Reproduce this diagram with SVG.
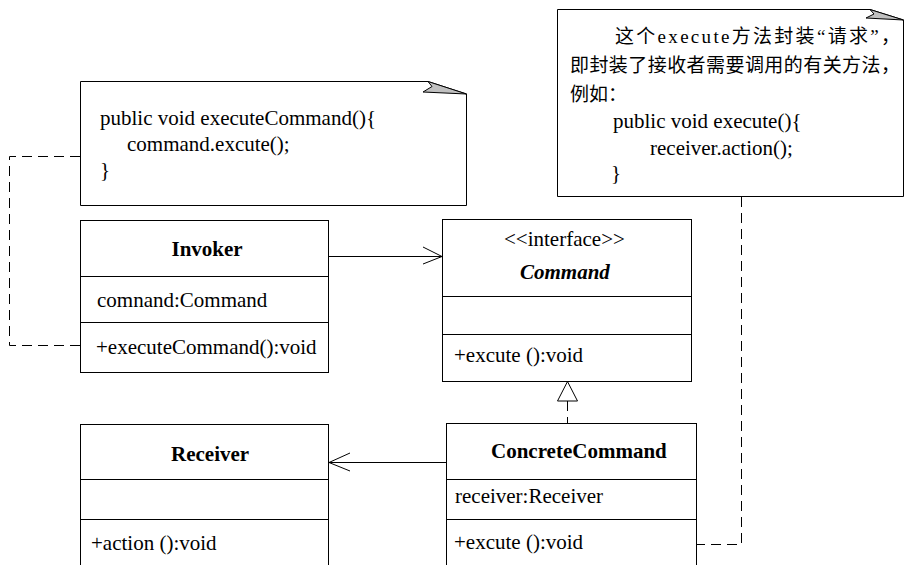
<svg xmlns="http://www.w3.org/2000/svg" width="904" height="565" viewBox="0 0 904 565">
<style>
.box{fill:#fff;stroke:#000;stroke-width:1}
.ln{fill:none;stroke:#000;stroke-width:1}
.dash{fill:none;stroke:#000;stroke-width:1;stroke-dasharray:10 6}
.ear{fill:#c0c0c0;stroke:#000;stroke-width:1;stroke-linejoin:round}
.t{font-family:"Liberation Serif","Noto Sans CJK SC",serif;font-size:21px;fill:#000}
.c{font-family:"Liberation Serif","Noto Sans CJK SC",serif;font-size:19px;fill:#000}
.b{font-weight:bold}
.bi{font-weight:bold;font-style:italic}
</style>
<rect width="904" height="565" fill="#fff"/>

<g id="connectors">
  <polyline class="dash" points="80,156.5 9.5,156.5 9.5,345.5 80,345.5"/>
  <line class="ln" x1="329" y1="256.5" x2="442" y2="256.5"/>
  <polyline class="ln" points="423,247 442,256.5 423,264"/>
  <line class="ln" x1="446" y1="462.5" x2="329" y2="462.5"/>
  <polyline class="ln" points="350,453 329,462.5 350,471"/>
  <line class="dash" x1="567.5" y1="401" x2="567.5" y2="423"/>
  <polygon class="box" points="567.5,381.5 557.5,401 577.5,401"/>
  <polyline class="dash" points="741.5,197 741.5,544.5 697,544.5"/>
</g>

<g id="note-invoker">
  <path class="box" d="M80.5,81.5 H428 L466.5,94 V205.5 H80.5 Z"/>
  <path class="ear" d="M428,81.5 L432,86.5 L423,92 L466.5,94 Z"/>
  <text class="t" x="100" y="125">public void executeCommand(){</text>
  <text class="t" x="127" y="151">command.excute();</text>
  <text class="t" x="100" y="177">}</text>
</g>

<g id="note-execute">
  <path class="box" d="M557.5,9.5 H870 L903.5,20 V196.5 H557.5 Z"/>
  <path class="ear" d="M870,9.5 L874,14 L866,18 L903.5,20 Z"/>
  <text class="c" x="615" y="43" textLength="285" lengthAdjust="spacing">这个execute方法封装“请求”，</text>
  <text class="c" x="570" y="72" textLength="330" lengthAdjust="spacing">即封装了接收者需要调用的有关方法，</text>
  <text class="c" x="570" y="101">例如：</text>
  <text class="t" x="613" y="128">public void execute(){</text>
  <text class="t" x="650" y="155">receiver.action();</text>
  <text class="t" x="611" y="180">}</text>
</g>

<g id="invoker">
  <rect class="box" x="80.5" y="220.5" width="248" height="152"/>
  <line class="ln" x1="80.5" y1="276.5" x2="328.5" y2="276.5"/>
  <line class="ln" x1="80.5" y1="322.5" x2="328.5" y2="322.5"/>
  <text class="t b" x="171.5" y="256">Invoker</text>
  <text class="t" x="97" y="307">comnand:Command</text>
  <text class="t" x="96" y="354">+executeCommand():void</text>
</g>

<g id="command">
  <rect class="box" x="442.5" y="219.5" width="249" height="162"/>
  <line class="ln" x1="442.5" y1="296.5" x2="691.5" y2="296.5"/>
  <line class="ln" x1="442.5" y1="334.5" x2="691.5" y2="334.5"/>
  <text class="t" x="504" y="246">&lt;&lt;interface&gt;&gt;</text>
  <text class="t bi" x="520" y="279">Command</text>
  <text class="t" x="454" y="362">+excute ():void</text>
</g>

<g id="receiver">
  <rect class="box" x="80.5" y="424.5" width="248" height="160"/>
  <line class="ln" x1="80.5" y1="479.5" x2="328.5" y2="479.5"/>
  <line class="ln" x1="80.5" y1="519.5" x2="328.5" y2="519.5"/>
  <text class="t b" x="171" y="461">Receiver</text>
  <text class="t" x="91" y="550">+action ():void</text>
</g>

<g id="concrete-command">
  <rect class="box" x="446.5" y="423.5" width="250" height="160"/>
  <line class="ln" x1="446.5" y1="479.5" x2="696.5" y2="479.5"/>
  <line class="ln" x1="446.5" y1="519.5" x2="696.5" y2="519.5"/>
  <text class="t b" x="491" y="458">ConcreteCommand</text>
  <text class="t" x="455" y="503">receiver:Receiver</text>
  <text class="t" x="454" y="549">+excute ():void</text>
</g>
</svg>
